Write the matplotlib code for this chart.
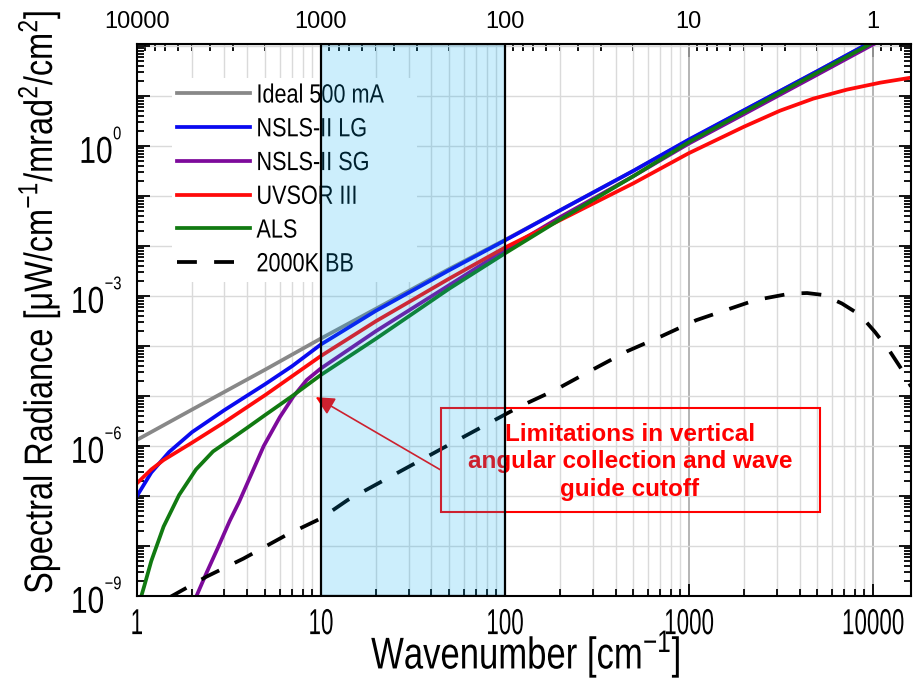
import numpy as np
import matplotlib
matplotlib.use("Agg")
import matplotlib.pyplot as plt
from matplotlib.ticker import LogLocator, FuncFormatter, NullFormatter
from matplotlib.patches import Rectangle
from matplotlib.patheffects import AbstractPathEffect
from matplotlib.transforms import Affine2D

# ---- data (wavenumber in cm^-1, radiance in uW/cm^-1/mrad^2/cm^2)
ideal_x = [1, 2, 5, 10, 20, 50, 100, 200, 500, 1000, 2000, 5000, 10000, 16000]
ideal_y = [1.32e-6, 5.37e-6, 3.39e-5, 1.41e-4, 5.6e-4, 3.5e-3, 1.32e-2, 5.2e-2,
           0.32, 1.32, 5.2, 31.6, 126, 316]

lg_x = [1, 1.2, 1.5, 2, 3, 5, 7, 10, 20, 50, 100, 200, 500, 1000, 2000, 5000, 10000, 16000]
lg_y = [9.8e-8, 2.95e-7, 7.6e-7, 1.9e-6, 5.25e-6, 1.74e-5, 3.98e-5, 1.07e-4, 5.1e-4,
        3.3e-3, 1.29e-2, 5.2e-2, 0.32, 1.35, 5.25, 31.6, 126, 316]

sg_x = [2.1, 2.4, 2.75, 3.2, 3.6, 4.2, 4.9, 6.0, 7.1, 8.4, 10, 20, 50, 100, 200, 500,
        1000, 2000, 5000, 10000, 16000]
sg_y = [9.5e-10, 2.95e-9, 8.9e-9, 3.16e-8, 7.6e-8, 2.75e-7, 1.0e-6, 3.8e-6, 9.8e-6,
        2.1e-5, 3.55e-5, 2.0e-4, 1.66e-3, 8.3e-3, 3.8e-2, 0.25, 1.12, 4.37, 26.9, 107, 263]

uv_x = [1, 1.2, 1.4, 2, 3, 5, 10, 20, 50, 100, 200, 500, 1000, 2000, 3130, 4750, 7250,
        11000, 16140]
uv_y = [1.78e-7, 3.4e-7, 5.25e-7, 1.17e-6, 3.0e-6, 1.05e-5, 6.3e-5, 3.16e-4, 2.24e-3,
        9.3e-3, 3.3e-2, 0.18, 0.72, 2.45, 5.1, 8.9, 13.5, 18.6, 23.4]

als_x = [1.05, 1.1, 1.2, 1.4, 1.7, 2.1, 2.6, 3.2, 4, 5, 7, 10, 20, 50, 100, 200, 500,
         1000, 2000, 5000, 10000, 16000]
als_y = [8.9e-10, 1.6e-9, 5.0e-9, 2.45e-8, 1.05e-7, 3.4e-7, 7.8e-7, 1.32e-6, 2.34e-6,
         4.2e-6, 1.0e-5, 2.63e-5, 1.41e-4, 1.41e-3, 7.1e-3, 3.4e-2, 0.25, 1.2, 4.8,
         29.5, 117, 295]

bb_x = [1.5, 2.4, 3.8, 6.5, 10, 14, 20, 50, 121, 188, 297, 460, 713, 1100, 1750, 2300,
        3550, 4400, 5400, 6800, 8530, 10300, 12400, 14300, 16140]
bb_y = [9.3e-10, 2.45e-9, 5.6e-9, 1.66e-8, 3.55e-8, 8.3e-8, 1.7e-7, 1.07e-6, 6.2e-6,
        1.32e-5, 3.3e-5, 7.8e-5, 1.58e-4, 3.3e-4, 5.9e-4, 8.3e-4, 1.12e-3, 1.15e-3,
        1.05e-3, 7.1e-4, 4.2e-4, 1.9e-4, 7.8e-5, 3.5e-5, 1.55e-5]


class Squeeze(AbstractPathEffect):
    """Draw text glyphs horizontally condensed (like a narrow font)."""

    def __init__(self, sx, anchor='center'):
        super().__init__()
        self.sx = sx
        self.anchor = anchor

    def draw_path(self, renderer, gc, tpath, affine, rgbFace=None):
        if len(tpath.vertices) == 0:
            return
        ext = tpath.get_extents()
        if self.anchor == 'left':
            x0 = 0.0
        elif self.anchor == 'right':
            x0 = ext.x1
        else:
            x0 = 0.5 * (ext.x0 + ext.x1)
        sq = Affine2D().translate(-x0, 0).scale(self.sx, 1).translate(x0, 0)
        renderer.draw_path(gc, tpath, sq + affine, rgbFace)


plt.rcParams['font.family'] = ['Liberation Sans', 'DejaVu Sans']
plt.rcParams['mathtext.fontset'] = 'custom'
plt.rcParams['mathtext.rm'] = 'Liberation Sans'
plt.rcParams['mathtext.it'] = 'Liberation Sans:italic'
plt.rcParams['mathtext.bf'] = 'Liberation Sans:bold'

fig = plt.figure(figsize=(9.23, 6.85), dpi=100)
ax = fig.add_axes([0.1481, 0.1299, 0.8389, 0.8058])

lw = 2.7
ax.plot(ideal_x, ideal_y, color='#888888', lw=lw, label='Ideal 500 mA')
ax.plot(lg_x, lg_y, color='#0a0af0', lw=lw, label='NSLS-II LG')
ax.plot(sg_x, sg_y, color='#7d0a9b', lw=lw, label='NSLS-II SG')
ax.plot(uv_x, uv_y, color='#ff0a0a', lw=lw, label='UVSOR III')
ax.plot(als_x, als_y, color='#117a11', lw=lw, label='ALS')
ax.plot(bb_x, bb_y, color='black', lw=lw, dashes=(5.3, 4.6), label='2000K BB')

ax.set_xscale('log')
ax.set_yscale('log')
ax.set_xlim(1, 16140)
ax.set_ylim(1e-9, 110)

# shaded band 10-100 cm^-1 drawn over everything (semi transparent)
ax.axvspan(10, 100, color=(0.0, 0.667, 0.94), alpha=0.2, lw=0, zorder=6)
ax.axvspan(10, 100, fill=False, edgecolor='black', lw=1.6, zorder=7)

# grid
ax.grid(which='major', axis='x', color='#a8a8a8', lw=1.2, zorder=0)
ax.grid(which='minor', axis='x', color='#dadada', lw=1.0, zorder=0)
ax.grid(which='major', axis='y', color='#dadada', lw=1.0, zorder=0)
ax.set_axisbelow(True)

# ticks
fmt_plain = FuncFormatter(lambda v, p: '%g' % v)


def yfmt(v, pos):
    e = int(round(np.log10(v)))
    if e % 3 == 0:
        return r'$\mathregular{10^{{}^{%d}}}$' % e
    return ''


ax.xaxis.set_major_locator(LogLocator(base=10, numticks=20))
ax.xaxis.set_minor_locator(LogLocator(base=10, subs=np.arange(2, 10), numticks=20))
ax.xaxis.set_major_formatter(fmt_plain)
ax.xaxis.set_minor_formatter(NullFormatter())
ax.yaxis.set_major_locator(LogLocator(base=10, numticks=100))
ax.yaxis.set_minor_locator(LogLocator(base=10, subs=np.arange(2, 10), numticks=100))
ax.yaxis.set_major_formatter(FuncFormatter(yfmt))
ax.yaxis.set_minor_formatter(NullFormatter())

ax.tick_params(which='both', direction='in', top=False, right=True, width=1.3)
ax.tick_params(which='major', length=9)
ax.tick_params(which='minor', length=5)
ax.tick_params(axis='x', labelsize=26, pad=8)
ax.tick_params(axis='y', labelsize=27, pad=10)
for s in ax.spines.values():
    s.set_linewidth(1.5)


# top axis: wavelength in micron
def inv(x):
    with np.errstate(divide='ignore'):
        return 1e4 / np.asarray(x, dtype=float)


sec = ax.secondary_xaxis('top', functions=(inv, inv))
sec.xaxis.set_major_formatter(fmt_plain)
sec.xaxis.set_minor_formatter(NullFormatter())
sec.tick_params(which='both', direction='in', width=1.3, labelsize=17, pad=8)
sec.tick_params(which='major', length=9)
sec.tick_params(which='minor', length=5)

ax.set_xlabel(r'Wavenumber [cm$^{-1}$]', fontsize=32, va='top')
ax.xaxis.set_label_coords(0.503, -0.058)
ax.set_ylabel('Spectral Radiance [\u03bcW/cm$^{-1}$/mrad$^{2}$/cm$^{2}$]', fontsize=28.5)
ax.yaxis.set_label_coords(-0.0965, 0.533)
ax.xaxis.label.set_path_effects([Squeeze(0.78)])
ax.yaxis.label.set_path_effects([Squeeze(0.82)])

leg = ax.legend(loc='upper left', bbox_to_anchor=(0.0456, 0.938), borderaxespad=0,
                fontsize=19, frameon=True, fancybox=False, framealpha=1,
                facecolor='white', edgecolor='none', handlelength=2.75,
                handletextpad=0.25, labelspacing=0.37, borderpad=0.2)
for t in leg.get_texts():
    t.set_path_effects([Squeeze(0.82, 'left')])

# annotation
ax.annotate('', xy=(9.4, 9.5e-6), xytext=(45, 3.3e-7),
            arrowprops=dict(arrowstyle='-|>', color='red', lw=1.2,
                            mutation_scale=28, shrinkA=0, shrinkB=0), zorder=4)
ax.add_patch(Rectangle((0.393, 0.152), 0.4895, 0.1884, transform=ax.transAxes,
                       fill=False, edgecolor='red', lw=1.5, zorder=4))
ax.text(0.637, 0.243, 'Limitations in vertical\nangular collection and wave\nguide cutoff',
        transform=ax.transAxes, ha='center', va='center', color='red',
        fontsize=17.5, fontweight='bold', linespacing=1.25, zorder=4)

# condense the tick labels like the narrow font of the original
fig.canvas.draw()
for tk in ax.xaxis.get_major_ticks():
    tk.label1.set_path_effects([Squeeze(0.62)])
for tk in ax.yaxis.get_major_ticks():
    tk.label1.set_path_effects([Squeeze(0.8, 'right')])

fig.savefig('out.png', dpi=100)
